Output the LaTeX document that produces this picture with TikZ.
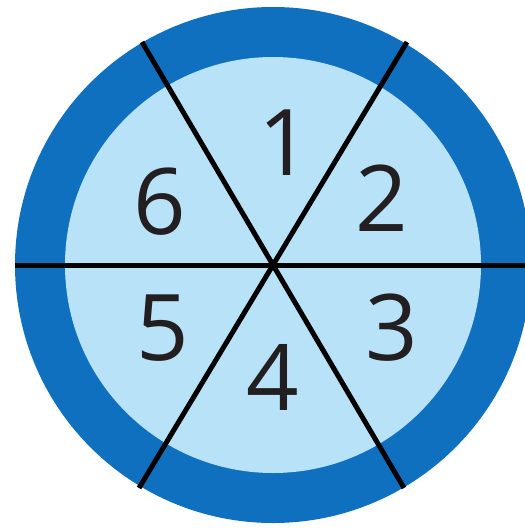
\documentclass[tikz,border=0pt]{standalone}
\usepackage{fontspec}
\setmainfont{Open Sans}
\usetikzlibrary{calc}
\definecolor{ringblue}{HTML}{1070C0}
\definecolor{lightblue}{HTML}{B8E2F8}
\definecolor{numcol}{HTML}{231F20}
\begin{document}
\begin{tikzpicture}[x=1pt,y=-1pt,
  num/.style={text=numcol,font=\fontsize{92}{92}\selectfont,inner sep=0pt},
  spoke/.style={line width=5pt,draw=black}]
\useasboundingbox (0,0) rectangle (525,528);
\begin{scope}
\clip (0,0) rectangle (525,528);
\coordinate (c) at (273,265);
\fill[ringblue] (c) circle[radius=258];
\fill[lightblue] (c) circle[radius=208];
\coordinate (h1) at ($(c)+(-258,0)$);
\coordinate (h2) at ($(c)+(262,0)$);
\coordinate (a1) at ($(c)+(-131,-223)$);
\coordinate (a2) at ($(c)+(131,223)$);
\coordinate (b1) at ($(c)+(134,-223)$);
\coordinate (b2) at ($(c)+(-134,223)$);
\draw[spoke] (h1) -- (h2);
\draw[spoke] (a1) -- (a2);
\draw[spoke] (b1) -- (b2);
\end{scope}
\node[num] (n1) at (285,143) {1};
\node[num] (n2) at (382,198) {2};
\node[num] (n3) at (392,328) {3};
\node[num] (n4) at (273,377) {4};
\node[num] (n5) at (163,328) {5};
\node[num] (n6) at (160,202) {6};
\end{tikzpicture}
\end{document}
